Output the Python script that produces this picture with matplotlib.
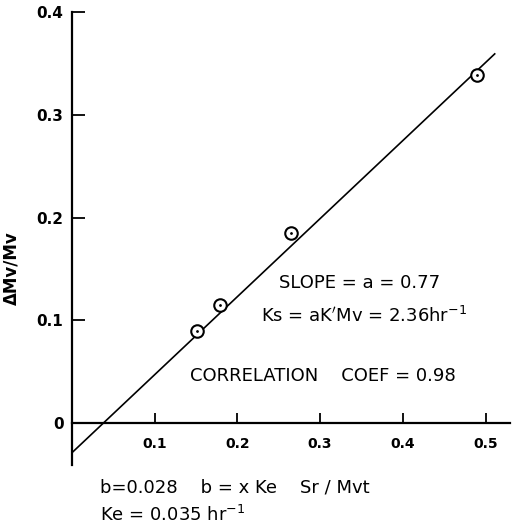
import numpy as np
import matplotlib
matplotlib.use("Agg")
import matplotlib.pyplot as plt

# measured points (Sr/Mvt, dMv/Mv)
x_pts = [0.151, 0.179, 0.265, 0.490]
y_pts = [0.090, 0.115, 0.185, 0.339]

# fitted line
slope = 0.76
intercept = -0.029
x_fit = [0.0, 0.511]

x_ticks = [0.1, 0.2, 0.3, 0.4, 0.5]
x_labels = ["0.1", "0.2", "0.3", "0.4", "0.5"]
y_ticks = [0.0, 0.1, 0.2, 0.3, 0.4]
y_labels = ["0", "0.1", "0.2", "0.3", "0.4"]

plt.rcParams["font.family"] = ["DejaVu Sans"]

fig = plt.figure(figsize=(5.13, 5.28), dpi=100)
ax = fig.add_axes([0.140, 0.119, 0.855, 0.858])

xf = np.array(x_fit)
ax.plot(xf, slope * xf + intercept, color="black", lw=1.2)
ax.plot(x_pts, y_pts, "o", ms=9, mfc="white", mec="black", mew=1.5)
ax.plot(x_pts, y_pts, ".", ms=2, color="black")

ax.set_xlim(0, 0.53)
ax.set_ylim(-0.041, 0.4)

for s in ["top", "right"]:
    ax.spines[s].set_visible(False)
ax.spines["bottom"].set_position(("data", 0))
ax.spines["left"].set_linewidth(1.6)
ax.spines["bottom"].set_linewidth(1.6)

ax.set_xticks(x_ticks)
ax.set_xticklabels(x_labels)
ax.set_yticks(y_ticks)
ax.set_yticklabels(y_labels)
ax.tick_params(axis="x", direction="in", length=7, width=1.3, pad=10, labelsize=10)
ax.tick_params(axis="y", direction="in", length=9, width=1.3, pad=6, labelsize=11)
for lab in ax.get_xticklabels() + ax.get_yticklabels():
    lab.set_fontweight("bold")

fig.text(0.022, 0.492, "ΔMv/Mv", rotation=90, ha="center", va="center",
         fontsize=12, fontweight="bold")

ax.text(0.250, 0.131, "SLOPE = a = 0.77", fontsize=13)
ax.text(0.229, 0.098, "Ks = aK$'$Mv = 2.36hr$^{-1}$", fontsize=13)
ax.text(0.143, 0.041, "CORRELATION    COEF = 0.98", fontsize=13)

fig.text(0.195, 0.077, "b=0.028    b = x Ke    Sr / Mvt", fontsize=13, va="center")
fig.text(0.195, 0.024, "Ke = 0.035 hr$^{-1}$", fontsize=13, va="center")

fig.savefig("out.png", dpi=100)
